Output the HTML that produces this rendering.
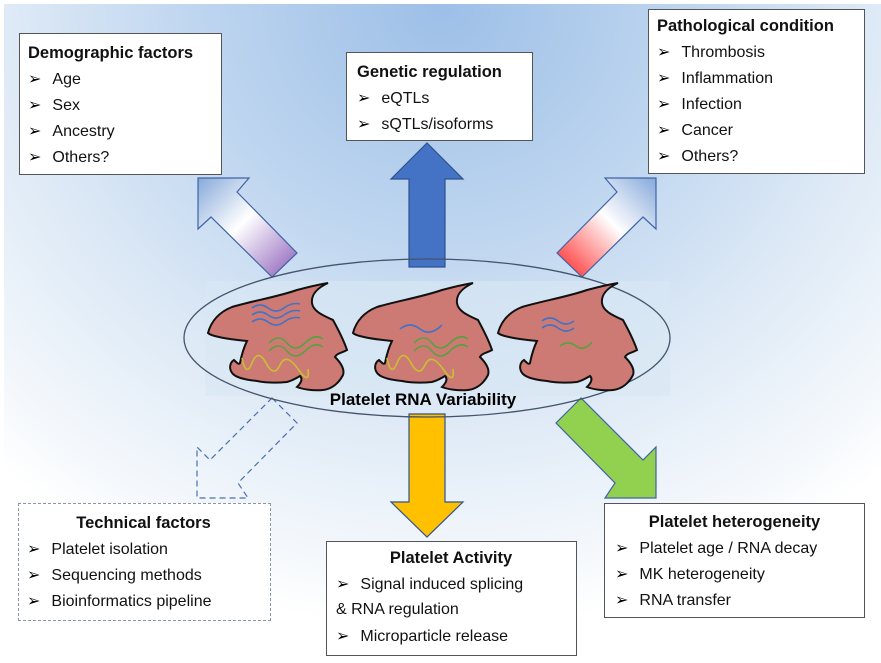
<!DOCTYPE html>
<html><head><meta charset="utf-8"><style>
body{margin:0;width:881px;height:663px;overflow:hidden;background:#fff;font-family:"Liberation Sans","DejaVu Sans",sans-serif}
#bg{position:absolute;left:4px;top:4px;width:877px;height:659px;background:radial-gradient(ellipse 75% 95% at 50% 0%,#9dbfe7 0%,#bcd4ef 35%,#dde9f6 65%,#f4f8fc 90%,#fff 100%)}
.box{position:absolute;background:#fff;border:1px solid #555;box-sizing:border-box;font-size:16px;color:#111}
.box .t{font-weight:bold;font-size:16.5px}
.box div{height:26px;line-height:26px;white-space:nowrap}
.b:before{content:"➢";font-family:"DejaVu Sans",sans-serif;font-size:16px;margin-right:11px;color:#000}
svg{position:absolute;left:0;top:0}
</style></head><body>
<div id="bg"></div>
<svg width="881" height="663">
<defs>
<linearGradient id="gp" x1="0" y1="0" x2="1" y2="1"><stop offset="0" stop-color="#86a9da"/><stop offset="0.45" stop-color="#fff"/><stop offset="1" stop-color="#8b5cb8"/></linearGradient>
<linearGradient id="gr" x1="1" y1="0" x2="0" y2="1"><stop offset="0" stop-color="#86a9da"/><stop offset="0.45" stop-color="#fff"/><stop offset="1" stop-color="#f22"/></linearGradient>
<path id="pl" d="M1,50 C5,35 15,28 25,24 C45,18 70,14 90,7 C105,3 115,1 121,0 C110,5 104,12 105,20 C106,28 115,32 126,37 C132,48 137,58 140,67 C135,70 130,70 128,74 C134,80 138,86 136,92 C132,100 125,106 116,107 C105,108 95,106 90,104 C94,100 96,96 93,93 C88,96 84,98 80,99 C70,100 60,100 50,98 C40,97 30,95 26,91 C22,87 22,80 27,77 C30,80 32,82 33,80 C35,70 38,62 40,58 C30,57 20,56 12,54 C7,53 3,52 1,50 Z" fill="#cd7a75" stroke="#111" stroke-width="2"/>
</defs>
<rect x="205" y="281" width="465" height="115" fill="#d8e8f3" opacity="0.6"/>
<polygon points="198,178 249,178 237,192 297,253 272,277 211,217 198,229" fill="url(#gp)" stroke="#3f63a6" stroke-width="1.2"/>
<polygon points="656,178 605,178 617,192 557,253 582,277 643,217 656,229" fill="url(#gr)" stroke="#3f63a6" stroke-width="1.2"/>
<polygon points="409,267 409,179 391,179 427,143 463,179 445,179 445,267" fill="#4472c4" stroke="#2f528f" stroke-width="1.2"/>
<polygon points="409,414 409,502 391,502 427,537 463,502 445,502 445,414" fill="#ffc000" stroke="#2f528f" stroke-width="1.2"/>
<polygon points="272,398 297,423 238,483 248,498 197,498 197,447 210,460" fill="none" stroke="#4a6fb0" stroke-width="1.2" stroke-dasharray="6,4"/>
<polygon points="581,398 556,423 615,483 605,498 656,498 656,447 643,460" fill="#92d050" stroke="#3f63a6" stroke-width="1.2"/>
<ellipse cx="427" cy="338" rx="243" ry="79" fill="none" stroke="#44546a" stroke-width="1.3"/>
<g transform="translate(207,283)"><use href="#pl"/>
<path d="M45,25 q8,-6 16,0 t16,0 t16,-4" stroke="#4472c4" stroke-width="1.6" fill="none"/>
<path d="M45,32 q8,-6 16,0 t16,0 t16,-4" stroke="#4472c4" stroke-width="1.6" fill="none"/>
<path d="M45,39 q8,-6 16,0 t16,0 t16,-4" stroke="#4472c4" stroke-width="1.6" fill="none"/>
<path d="M62,60 q10,-10 18,0 t18,0 t18,-4" stroke="#5aa040" stroke-width="1.6" fill="none"/>
<path d="M62,68 q10,-10 18,0 t18,0 t18,-4" stroke="#5aa040" stroke-width="1.6" fill="none"/>
<path d="M35,75 q4,20 10,5 t14,0 t14,2 t18,4 t10,0" stroke="#c8c030" stroke-width="1.6" fill="none"/>
</g>
<g transform="translate(352,283)"><use href="#pl"/>
<path d="M48,46 q10,-8 20,0 t22,-4" stroke="#4472c4" stroke-width="1.6" fill="none"/>
<path d="M62,60 q10,-10 18,0 t18,0 t18,-4" stroke="#5aa040" stroke-width="1.6" fill="none"/>
<path d="M62,68 q10,-10 18,0 t18,0 t18,-4" stroke="#5aa040" stroke-width="1.6" fill="none"/>
<path d="M35,75 q4,20 10,5 t14,0 t14,2 t18,4 t10,0" stroke="#c8c030" stroke-width="1.6" fill="none"/>
</g>
<g transform="translate(497,283)"><use href="#pl"/>
<path d="M45,38 q8,-6 16,0 t16,0" stroke="#4472c4" stroke-width="1.6" fill="none"/>
<path d="M45,45 q8,-6 16,0 t16,0" stroke="#4472c4" stroke-width="1.6" fill="none"/>
<path d="M63,63 q8,-6 16,0 t16,-4" stroke="#5aa040" stroke-width="1.6" fill="none"/>
</g>
<text x="423" y="405" text-anchor="middle" font-weight="bold" font-size="17" fill="#000" font-family="Liberation Sans, sans-serif">Platelet RNA Variability</text>
</svg>

<div class="box" style="left:19px;top:33px;width:203px;height:142px;padding:6px 0 0 8px">
<div class="t">Demographic factors</div><div class="b">Age</div><div class="b">Sex</div><div class="b">Ancestry</div><div class="b">Others?</div></div>

<div class="box" style="left:346px;top:52px;width:187px;height:89px;padding:6px 0 0 10px">
<div class="t">Genetic regulation</div><div class="b">eQTLs</div><div class="b">sQTLs/isoforms</div></div>

<div class="box" style="left:648px;top:9px;width:217px;height:165px;padding:3px 0 0 8px">
<div class="t">Pathological condition</div><div class="b">Thrombosis</div><div class="b">Inflammation</div><div class="b">Infection</div><div class="b">Cancer</div><div class="b">Others?</div></div>

<div class="box" style="left:18px;top:503px;width:253px;height:118px;padding:6px 0 0 8px;border:1px dashed #8896aa">
<div class="t" style="text-align:center;padding-right:10px">Technical factors</div><div class="b">Platelet isolation</div><div class="b">Sequencing methods</div><div class="b">Bioinformatics pipeline</div></div>

<div class="box" style="left:326px;top:541px;width:251px;height:115px;padding:3px 0 0 9px">
<div class="t" style="text-align:center;padding-right:10px">Platelet Activity</div><div class="b">Signal induced splicing</div><div>&amp; RNA regulation</div><div class="b">Microparticle release</div></div>

<div class="box" style="left:604px;top:503px;width:261px;height:115px;padding:5px 0 0 10px">
<div class="t" style="text-align:center;padding-right:10px">Platelet heterogeneity</div><div class="b">Platelet age / RNA decay</div><div class="b">MK heterogeneity</div><div class="b">RNA transfer</div></div>
</body></html>
